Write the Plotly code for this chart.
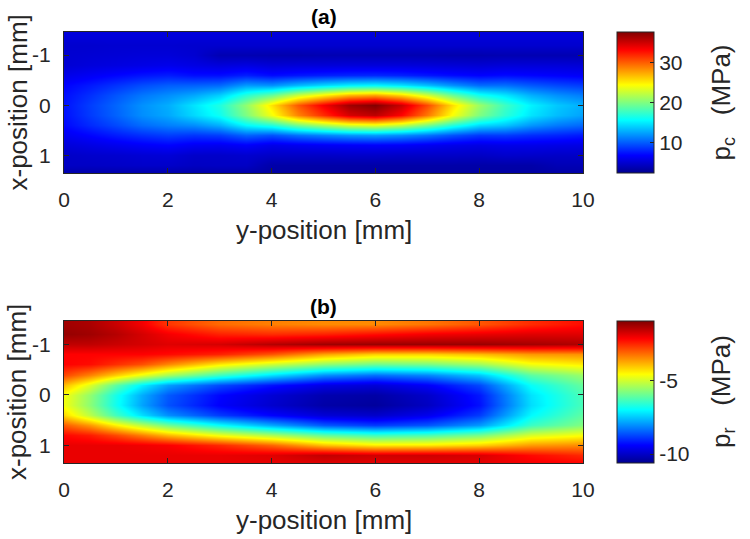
import plotly.graph_objects as go

# ---------------- data ----------------
# horizontal axis: y-position [mm]; vertical axis: x-position [mm]
y_pos_a = [0, 0.5, 1, 1.5, 2, 2.5, 3, 3.5, 4, 4.5, 5, 5.5, 6, 6.5, 7, 7.5, 8, 8.5, 9, 9.5, 10]
x_pos = [-1.4, -1.2, -1.0, -0.8, -0.6, -0.4, -0.2, 0.0, 0.2, 0.4, 0.6, 0.8, 1.0, 1.2, 1.4]

# (a) compressional pressure p_c [MPa], rows follow x_pos, columns follow y_pos_a
pc = [
    [5.5, 5.5, 5.5, 5.5, 5.5, 5.5, 5.5, 5.5, 5.5, 5.5, 5.5, 5.5, 5.5, 5.5, 5.5, 5.5, 5.5, 5.5, 5.5, 5.5, 5.5],
    [5.0, 5.0, 5.1, 5.1, 5.1, 5.0, 5.0, 5.0, 5.0, 5.0, 5.0, 5.0, 5.0, 5.0, 5.0, 5.0, 5.0, 5.0, 5.0, 5.0, 5.0],
    [5.1, 5.2, 5.3, 5.4, 5.4, 5.1, 3.9, 3.9, 3.8, 3.8, 3.9, 3.9, 3.9, 3.9, 3.9, 3.8, 3.8, 3.9, 3.9, 3.9, 3.9],
    [5.2, 5.5, 5.7, 5.9, 6.1, 5.8, 5.5, 5.7, 5.3, 5.4, 5.4, 5.5, 5.5, 5.5, 5.4, 5.3, 5.2, 5.4, 5.4, 5.4, 5.3],
    [6.0, 6.5, 7.0, 7.5, 7.8, 7.3, 7.3, 7.9, 7.2, 7.6, 7.9, 8.1, 8.2, 8.0, 7.6, 7.2, 6.9, 7.2, 7.0, 6.8, 6.6],
    [6.9, 7.7, 8.6, 9.5, 10.1, 10.2, 10.5, 12.2, 11.9, 13.3, 14.4, 15.2, 15.5, 14.8, 13.5, 11.9, 10.6, 10.7, 9.9, 9.3, 8.9],
    [7.3, 8.5, 9.8, 11.0, 11.8, 12.7, 14.1, 17.1, 19.3, 22.7, 25.0, 27.0, 27.7, 26.0, 23.0, 19.3, 16.3, 14.9, 13.0, 11.9, 11.2],
    [7.5, 9.0, 10.4, 11.9, 12.9, 14.8, 16.8, 20.7, 25.5, 30.3, 33.7, 36.6, 37.6, 35.2, 30.8, 25.5, 21.1, 17.8, 15.3, 13.8, 12.9],
    [7.4, 8.9, 10.3, 11.8, 12.7, 14.4, 16.2, 20.0, 24.2, 28.8, 31.9, 34.7, 35.6, 33.3, 29.2, 24.2, 20.1, 17.2, 14.8, 13.4, 12.5],
    [7.1, 8.3, 9.4, 10.6, 11.3, 11.8, 13.0, 15.6, 16.9, 19.7, 21.6, 23.2, 23.7, 22.4, 19.9, 16.9, 14.5, 13.7, 12.1, 11.1, 10.5],
    [6.3, 7.0, 7.8, 8.5, 9.0, 8.7, 9.0, 10.3, 9.7, 10.8, 11.5, 12.1, 12.3, 11.8, 10.9, 9.7, 8.8, 8.9, 8.4, 8.1, 7.7],
    [5.4, 5.8, 6.2, 6.6, 6.9, 6.4, 6.3, 6.7, 6.0, 6.3, 6.5, 6.6, 6.7, 6.6, 6.3, 6.0, 5.8, 6.0, 6.0, 5.9, 5.8],
    [4.7, 4.9, 5.0, 5.2, 5.3, 4.8, 4.8, 5.0, 4.7, 4.7, 4.7, 4.8, 4.8, 4.7, 4.7, 4.7, 4.6, 4.9, 4.8, 4.7, 4.7],
    [4.6, 4.6, 4.7, 4.8, 4.8, 4.5, 4.6, 4.6, 3.5, 3.5, 3.5, 3.5, 3.5, 3.5, 3.5, 3.5, 3.5, 3.5, 3.5, 4.0, 4.0],
    [3.2, 3.2, 3.2, 3.2, 3.2, 3.2, 3.2, 3.2, 3.2, 3.2, 3.2, 3.2, 3.2, 3.2, 3.2, 3.2, 3.2, 3.2, 3.2, 3.2, 3.2],
]

y_pos_b = [0, 0.5, 1, 1.5, 2, 3, 4, 5, 6, 7, 8, 9, 10]

# (b) rarefactional pressure p_r [MPa], rows follow x_pos, columns follow y_pos_b
pr = [
    [-1.3, -1.4, -1.7, -2.1, -2.7, -3.2, -3.4, -3.5, -3.5, -3.3, -3.0, -2.6, -2.3],
    [-1.2, -1.3, -1.5, -1.8, -2.1, -2.5, -2.6, -2.5, -2.3, -2.1, -2.0, -1.9, -1.9],
    [-1.6, -1.6, -1.7, -1.8, -1.9, -1.8, -1.5, -1.3, -1.25, -1.25, -1.25, -1.35, -1.45],
    [-2.2, -2.2, -2.2, -2.2, -2.28, -2.52, -3.01, -3.74, -4.15, -4.17, -3.97, -3.62, -3.57],
    [-2.2, -2.3, -2.63, -2.94, -3.47, -4.42, -5.06, -5.64, -5.95, -5.86, -5.5, -4.7, -4.43],
    [-2.86, -3.44, -4.15, -4.81, -5.46, -6.45, -7.28, -8.05, -8.36, -8.14, -7.54, -6.15, -5.56],
    [-3.96, -4.92, -6.12, -7.13, -7.91, -8.71, -9.25, -9.69, -9.83, -9.47, -8.74, -6.94, -6.06],
    [-4.68, -5.64, -6.81, -7.78, -8.56, -9.36, -9.86, -10.26, -10.36, -9.98, -9.2, -7.26, -6.3],
    [-4.72, -5.7, -6.87, -7.86, -8.64, -9.44, -9.93, -10.34, -10.45, -10.06, -9.27, -7.31, -6.33],
    [-4.23, -5.25, -6.39, -7.3, -8.05, -8.86, -9.4, -9.84, -9.96, -9.6, -8.86, -7.03, -6.12],
    [-3.06, -3.64, -4.5, -5.25, -5.95, -6.96, -7.81, -8.57, -8.85, -8.6, -7.96, -6.45, -5.78],
    [-2.25, -2.44, -2.87, -3.39, -3.94, -4.75, -5.38, -6.08, -6.42, -6.3, -5.89, -4.97, -4.64],
    [-2.0, -2.0, -2.0, -2.06, -2.15, -2.57, -3.15, -4.01, -4.41, -4.4, -4.16, -3.65, -3.51],
    [-2.0, -2.0, -2.0, -2.0, -2.0, -2.0, -1.9, -1.62, -1.75, -1.74, -1.83, -2.27, -2.57],
    [-2.0, -2.0, -2.0, -2.0, -2.0, -2.0, -2.0, -2.0, -2.0, -2.0, -2.0, -2.03, -2.09],
]

y_ticks = [0, 2, 4, 6, 8, 10]
y_tick_text = ["0", "2", "4", "6", "8", "10"]
x_ticks = [-1, 0, 1]
x_tick_text = ["-1", "0", "1"]
cb_ticks_a = [10, 20, 30]
cb_text_a = ["10", "20", "30"]
cb_ticks_b = [-10, -5]
cb_text_b = ["-10", "-5"]
range_a = [2.5, 37.7]
range_b = [-10.6, -1.0]

# ---------------- style ----------------
W, H = 750, 539
TXT = "#262626"
FONT = "Liberation Sans, Arial, sans-serif"
jet = [[0.0, "rgb(0,0,143)"], [0.125, "rgb(0,0,255)"], [0.375, "rgb(0,255,255)"],
       [0.625, "rgb(255,255,0)"], [0.875, "rgb(255,0,0)"], [1.0, "rgb(128,0,0)"]]

def px(x):
    return x / W

def py(y):
    return 1 - y / H

plot_l, plot_r = 64, 583
panels = [dict(top=32, bot=173), dict(top=321, bot=463)]
cb_l, cb_w = 617, 37
NBSP = "\u00a0"

fig = go.Figure()

def cbar(p, ticks, text):
    return dict(
        x=px(cb_l), xanchor="left", xpad=0, ypad=0,
        y=py((p["top"] + p["bot"]) / 2), yanchor="middle",
        len=(p["bot"] - p["top"]) / H, lenmode="fraction",
        thickness=cb_w, thicknessmode="pixels",
        outlinewidth=1, outlinecolor=TXT,
        tickvals=ticks, ticktext=text, ticks="inside", ticklen=4, tickcolor=TXT,
        tickfont=dict(size=21, color=TXT, family=FONT),
    )

fig.add_trace(go.Heatmap(
    x=y_pos_a, y=x_pos, z=pc, colorscale=jet, zmin=range_a[0], zmax=range_a[1],
    zsmooth="best", xaxis="x", yaxis="y", colorbar=cbar(panels[0], cb_ticks_a, cb_text_a),
    hoverinfo="skip"))
fig.add_trace(go.Heatmap(
    x=y_pos_b, y=x_pos, z=pr, colorscale=jet, zmin=range_b[0], zmax=range_b[1],
    zsmooth="best", xaxis="x2", yaxis="y2", colorbar=cbar(panels[1], cb_ticks_b, cb_text_b),
    hoverinfo="skip"))

def xax(anchor):
    return dict(domain=[px(plot_l), px(plot_r)], range=[0, 10], anchor=anchor,
                tickvals=y_ticks, ticktext=y_tick_text, ticks="inside", ticklen=5, tickcolor=TXT,
                showline=True, mirror="ticks", linecolor=TXT, linewidth=1,
                showgrid=False, zeroline=False,
                tickfont=dict(size=21, color=TXT, family=FONT), ticklabelstandoff=8)

def yax(anchor, p):
    return dict(domain=[py(p["bot"]), py(p["top"])], range=[1.35, -1.46], anchor=anchor,
                tickvals=x_ticks, ticktext=x_tick_text, ticks="inside", ticklen=5, tickcolor=TXT,
                showline=True, mirror="ticks", linecolor=TXT, linewidth=1,
                showgrid=False, zeroline=False,
                tickfont=dict(size=21, color=TXT, family=FONT), ticklabelstandoff=8)

annotations = []
labels = ["(a)", "(b)"]
cb_titles = ["p<sub>c</sub>" + NBSP * 2 + " (MPa)", "p<sub>r</sub>" + NBSP * 2 + " (MPa)"]
for i, p in enumerate(panels):
    mid = (p["top"] + p["bot"]) / 2
    annotations.append(dict(text="<b>" + labels[i] + "</b>", x=px((plot_l + plot_r) / 2),
                            y=py(p["top"] - 15), xref="paper", yref="paper",
                            xanchor="center", yanchor="middle",
                            showarrow=False, font=dict(size=21, color="#000000", family=FONT)))
    annotations.append(dict(text="y-position [mm]", x=px((plot_l + plot_r) / 2),
                            y=py(p["bot"] + 57), xref="paper", yref="paper",
                            xanchor="center", yanchor="middle",
                            showarrow=False, font=dict(size=26, color=TXT, family=FONT)))
    annotations.append(dict(text="x-position [mm]", x=px(17), y=py(mid), textangle=-90,
                            xref="paper", yref="paper", xanchor="center", yanchor="middle",
                            showarrow=False, font=dict(size=26, color=TXT, family=FONT)))
    annotations.append(dict(text=cb_titles[i], x=px(722), y=py(mid), textangle=-90,
                            xref="paper", yref="paper", xanchor="center", yanchor="middle",
                            showarrow=False, font=dict(size=26, color=TXT, family=FONT)))

fig.update_layout(
    width=W, height=H, margin=dict(l=0, r=0, t=0, b=0, autoexpand=False),
    paper_bgcolor="white", plot_bgcolor="white",
    xaxis=xax("y"), yaxis=yax("x", panels[0]),
    xaxis2=xax("y2"), yaxis2=yax("x2", panels[1]),
    annotations=annotations, showlegend=False,
    font=dict(family=FONT, color=TXT),
)

fig.write_html("out.html", config={"displayModeBar": False},
               post_script="document.body.style.margin='0px';")
